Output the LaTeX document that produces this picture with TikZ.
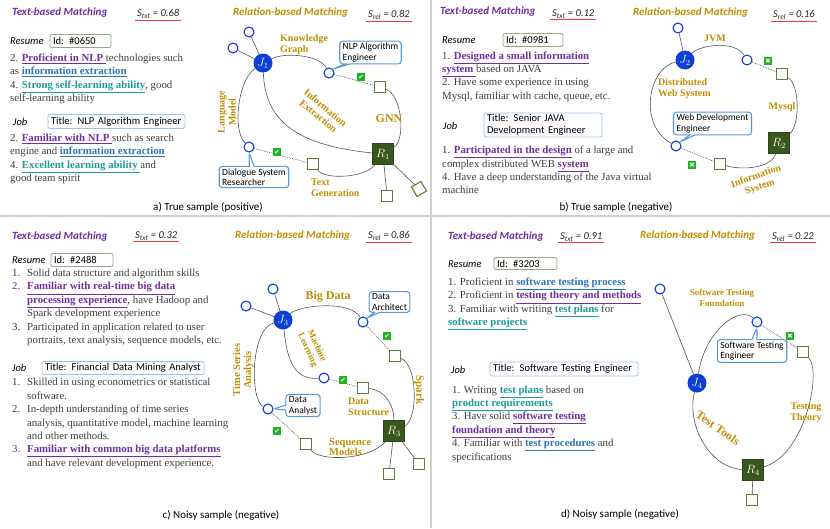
\documentclass[tikz,border=0pt]{standalone}
\usepackage{fontspec}
\setmainfont{Liberation Serif}
\newfontfamily\sansf{Carlito}
\newfontfamily\dejavu{DejaVu Sans}
\usetikzlibrary{shapes.callouts}
\definecolor{txtgray}{HTML}{404040}
\definecolor{hpurple}{HTML}{7030A0}
\definecolor{hblue}{HTML}{2E75B6}
\definecolor{hteal}{HTML}{1E9C9C}
\definecolor{gold}{HTML}{BF9000}
\definecolor{nblue}{HTML}{0D3FD6}
\definecolor{rgreen}{HTML}{38571F}
\definecolor{sgreen}{HTML}{5B7F3B}
\definecolor{callblue}{HTML}{5B9BD5}
\definecolor{idgreen}{HTML}{93A88A}
\definecolor{titleblue}{HTML}{9DC3E6}
\definecolor{hdgold}{HTML}{BF8F00}
\definecolor{ulred}{HTML}{F03C3C}
\definecolor{chkgreen}{HTML}{22B422}
\definecolor{divgray}{HTML}{D0D0D0}
\definecolor{edgegray}{HTML}{555555}
\newcommand\hlt[2]{{\color{#1}\bfseries\underline{#2}}}
\newcommand\nbx[1]{\makebox[15pt][l]{#1}}
\newcommand\ind{\hspace*{15pt}}
\begin{document}
\begin{tikzpicture}[x=1pt,y=-1pt,
 bodytxt/.style={anchor=west, inner sep=0pt, align=left, text=txtgray, font=\fontsize{10.8}{13.4}\selectfont},
 hdp/.style={anchor=west, inner sep=0pt, text=hpurple, font=\sansf\bfseries\itshape\fontsize{11}{12}\selectfont},
 hdg/.style={hdp, text=hdgold},
 score/.style={anchor=west, inner sep=0pt, text=black!85, font=\sansf\itshape\fontsize{10.5}{11}\selectfont},
 redul/.style={draw=ulred, line width=1pt},
 hdr/.style={anchor=west, inner sep=0pt, font=\sansf\itshape\fontsize{10.5}{12}\selectfont, text=black},
 idbox/.style={draw=idgreen, line width=0.8pt, rounded corners=2pt, fill=white, font=\sansf\fontsize{10.5}{12}\selectfont, inner xsep=3pt, inner ysep=1pt, align=left, text=black},
 tbox/.style={idbox, draw=titleblue},
 capt/.style={inner sep=0pt, font=\sansf\fontsize{11}{12}\selectfont, text=black},
 jn/.style={circle, fill=nblue, minimum size=19pt, inner sep=0pt, text=white, font=\fontsize{12}{12}\selectfont},
 on/.style={circle, draw=nblue, line width=1.1pt, fill=white, minimum size=10pt, inner sep=0pt},
 rn/.style={rectangle, fill=rgreen, draw=rgreen!80!black, minimum size=21pt, inner sep=0pt, text=white, font=\fontsize{12}{12}\selectfont},
 sn/.style={rectangle, draw=sgreen, line width=1.1pt, fill=white, minimum size=11pt, inner sep=0pt},
 lnk/.style={draw=edgegray, line width=0.6pt},
 dotl/.style={draw=edgegray, line width=0.7pt, densely dotted},
 ok/.style={rectangle, fill=chkgreen, text=white, minimum size=8pt, inner sep=0pt, font=\dejavu\fontsize{6.5}{6.5}\selectfont},
 gl/.style={text=gold, font=\bfseries\fontsize{10}{11}\selectfont, inner sep=0pt, align=left},
 callbx/.style={rectangle callout, draw=callblue, line width=1.1pt, fill=white, rounded corners=3pt, font=\sansf\fontsize{9.5}{10.5}\selectfont, align=left, inner xsep=3pt, inner ysep=2pt, text=black, callout pointer width=5pt}
]
\useasboundingbox (0,0) rectangle (830,528);
\fill[white] (0,0) rectangle (830,528);
\draw[divgray, line width=1.5pt] (0,216) -- (830,216);
\draw[divgray, line width=1.5pt] (431,0) -- (431,528);

% ================= a) =================
\node[hdp] (tA) at (12,13) {Text-based Matching};
\node[score] (stA) at (137,14) {S\textsubscript{txt} = 0.68};
\draw[redul] ([xshift=-2pt,yshift=-1.5pt]stA.south west) -- ([xshift=2pt,yshift=-1.5pt]stA.south east);
\node[hdg] (rA) at (233,13) {Relation-based Matching};
\node[score] (srA) at (368,15) {S\textsubscript{rel} = 0.82};
\draw[redul] ([xshift=-2pt,yshift=-1.5pt]srA.south west) -- ([xshift=2pt,yshift=-1.5pt]srA.south east);
\node[hdr] (resA) at (10,41) {Resume};
\node[idbox, text width=55pt, minimum height=13pt] (idA) at (80.5,41) {Id: \#0650};
\node[bodytxt] (rtA) at (10,79) {2. \hlt{hpurple}{Proficient in NLP }technologies such\\
as \hlt{hblue}{information extraction}\\
4. \hlt{hteal}{Strong self-learning ability}, good\\
self-learning ability};
\node[hdr] (jobA) at (13,122) {Job};
\node[tbox, text width=131pt, minimum height=14pt] (ttA) at (116.5,121.5) {Title: NLP Algorithm Engineer};
\node[bodytxt] (jtA) at (10,159) {2. \hlt{hpurple}{Familiar with NLP }such as search\\
engine and \hlt{hblue}{information extraction}\\
4. \hlt{hteal}{Excellent learning ability }and\\
good team spirit};
\node[capt] (capA) at (208,207) {a) True sample (positive)};

\node[jn] (J1) at (263,63) {$J_1$};
\node[on] (oA1) at (249,32) {};
\node[on] (oA2) at (233,48) {};
\node[on] (oA3) at (329,73) {};
\node[on] (oA4) at (249,147) {};
\node[sn] (sA1) at (380,87) {};
\node[sn] (sA2) at (313,164) {};
\node[rn] (R1) at (383,154) {$R_1$};
\node[sn] (sA3) at (387,196) {};
\node[sn, rotate=30] (sA4) at (419,189) {};
\draw[lnk] (J1) -- (oA1);
\draw[lnk] (J1) -- (oA2);
\draw[lnk] (J1) .. controls (285,52) and (320,55) .. (oA3);
\draw[dotl] (oA3) -- (sA1);
\draw[lnk] (sA1) .. controls (402,95) and (406,140) .. (R1);
\draw[lnk] (J1) .. controls (265,118) and (292,145) .. (R1);
\draw[lnk] (J1) .. controls (238,80) and (232,130) .. (oA4);
\draw[dotl] (oA4) -- (sA2);
\draw[lnk] (sA2) .. controls (325,180) and (365,178) .. (R1);
\draw[lnk] (R1) -- (sA3);
\draw[lnk] (R1) -- (sA4);
\node[ok] (kA1) at (361,77) {✔};
\node[ok] (kA2) at (277,152) {✔};
\node[gl, anchor=west] (gA1) at (280,44.5) {Knowledge\\Graph};
\node[gl, rotate=90, align=center] (gA2) at (227,112) {Language\\Model};
\node[gl, rotate=-40, align=center] (gA3) at (322,112) {Information\\Extraction};
\node[gl, font=\bfseries\fontsize{12}{12}\selectfont] (gA4) at (389,119) {GNN};
\node[gl, anchor=west] (gA5) at (311,188) {Text\\Generation};
\node[callbx, callout absolute pointer={(oA3.north east)}] (cA1) at (370.5,52.5) {NLP Algorithm\\Engineer};
\node[callbx, callout absolute pointer={(oA4.south)}] (cA2) at (254,177) {Dialogue System\\Researcher};

% ================= b) =================
\node[hdp] (tB) at (440,12) {Text-based Matching};
\node[score] (stB) at (552,14) {S\textsubscript{txt} = 0.12};
\draw[redul] ([xshift=-2pt,yshift=-1.5pt]stB.south west) -- ([xshift=2pt,yshift=-1.5pt]stB.south east);
\node[hdg] (rB) at (633,13) {Relation-based Matching};
\node[score] (srB) at (773,15) {S\textsubscript{rel} = 0.16};
\draw[redul] ([xshift=-2pt,yshift=-1.5pt]srB.south west) -- ([xshift=2pt,yshift=-1.5pt]srB.south east);
\node[hdr] (resB) at (442,40) {Resume};
\node[idbox, text width=54pt, minimum height=13pt] (idB) at (533,40) {Id: \#0981};
\node[bodytxt] (rtB) at (442,76.5) {1. \hlt{hpurple}{Designed a small information}\\
\hlt{hpurple}{system }based on JAVA\\
2. Have some experience in using\\
Mysql, familiar with cache, queue, etc.};
\node[hdr] (jobB) at (443,126) {Job};
\node[tbox, text width=112pt, minimum height=24pt] (ttB) at (543,125) {Title: Senior JAVA\\Development Engineer};
\node[bodytxt] (jtB) at (442,170) {1. \hlt{hpurple}{Participated in the design} of a large and\\
complex distributed WEB \hlt{hpurple}{system}\\
4. Have a deep understanding of the Java virtual\\
machine};
\node[capt] (capB) at (616,207) {b) True sample (negative)};

\node[jn] (J2) at (685,60) {$J_2$};
\node[on] (oB1) at (678,28) {};
\node[on] (oB2) at (747,60) {};
\node[on] (oB3) at (676,146) {};
\node[sn] (sB1) at (782,74) {};
\node[sn] (sB2) at (720,164) {};
\node[rn] (R2) at (779,143) {$R_2$};
\draw[lnk] (J2) -- (oB1);
\draw[lnk] (J2) .. controls (700,45) and (735,40) .. (oB2);
\draw[dotl] (oB2) -- (sB1);
\draw[lnk] (sB1) .. controls (800,85) and (800,125) .. (R2);
\draw[lnk] (J2) .. controls (648,68) and (638,125) .. (oB3);
\draw[dotl] (oB3) -- (sB2);
\draw[lnk] (sB2) .. controls (745,171) and (772,167) .. (R2);
\node[ok] (xB1) at (768,61) {✖};
\node[ok] (xB2) at (692,165) {✖};
\node[gl] (gB1) at (715,38) {JVM};
\node[gl, anchor=west] (gB2) at (658,89) {Distributed\\Web System};
\node[gl] (gB3) at (782,107) {Mysql};
\node[gl, rotate=20, align=center] (gB4) at (758,182) {Information\\System};
\node[callbx, callout absolute pointer={(oB3.north east)}] (cB1) at (712.5,123.5) {Web Development\\Engineer};

% ================= c) =================
\node[hdp] (tC) at (12,237) {Text-based Matching};
\node[score] (stC) at (135,236) {S\textsubscript{txt} = 0.32};
\draw[redul] ([xshift=-2pt,yshift=-1.5pt]stC.south west) -- ([xshift=2pt,yshift=-1.5pt]stC.south east);
\node[hdg] (rC) at (235,236) {Relation-based Matching};
\node[score] (srC) at (368,236) {S\textsubscript{rel} = 0.86};
\draw[redul] ([xshift=-2pt,yshift=-1.5pt]srC.south west) -- ([xshift=2pt,yshift=-1.5pt]srC.south east);
\node[hdr] (resC) at (12,260) {Resume};
\node[idbox, text width=56pt, minimum height=13pt] (idC) at (82,260) {Id: \#2488};
\node[bodytxt] (rtC) at (12,307.5) {\nbx{1.}Solid data structure and algorithm skills\\
{\color{hpurple}\nbx{2.}}\hlt{hpurple}{Familiar with real-time big data}\\
\ind\hlt{hpurple}{processing experience}, have Hadoop and\\
\ind Spark development experience\\
\nbx{3.}Participated in application related to user\\
\ind portraits, text analysis, sequence models, etc.};
\node[hdr] (jobC) at (12,368) {Job};
\node[tbox, text width=156pt, minimum height=13pt] (ttC) at (123,368) {Title: Financial Data Mining Analyst};
\node[bodytxt] (jtC) at (12,423.5) {\nbx{1.}Skilled in using econometrics or statistical\\
\ind software.\\
\nbx{2.}In-depth understanding of time series\\
\ind analysis, quantitative model, machine learning\\
\ind and other methods.\\
{\color{hpurple}\nbx{3.}}\hlt{hpurple}{Familiar with common big data platforms}\\
\ind and have relevant development experience.};
\node[capt] (capC) at (221,515) {c) Noisy sample (negative)};

\node[jn] (J3) at (283,320) {$J_3$};
\node[on] (oC1) at (273,289) {};
\node[on] (oC2) at (246,306) {};
\node[on] (oC3) at (363,322) {};
\node[on] (oC4) at (324,378) {};
\node[on] (oC5) at (268,409) {};
\node[sn] (sC1) at (395,356) {};
\node[sn] (sC2) at (363,388) {};
\node[sn] (sC3) at (306,444) {};
\node[rn] (R3) at (394,431) {$R_3$};
\node[sn] (sC4) at (389,474) {};
\node[sn] (sC5) at (419,464) {};
\draw[lnk] (J3) -- (oC1);
\draw[lnk] (J3) -- (oC2);
\draw[lnk] (J3) .. controls (300,305) and (350,300) .. (oC3);
\draw[dotl] (oC3) -- (sC1);
\draw[lnk] (sC1) .. controls (418,365) and (418,420) .. (R3);
\draw[lnk] (J3) .. controls (287,360) and (294,380) .. (oC4);
\draw[dotl] (oC4) -- (sC2);
\draw[lnk] (sC2) .. controls (385,390) and (394,405) .. (R3);
\draw[lnk] (J3) .. controls (250,330) and (250,400) .. (oC5);
\draw[dotl] (oC5) -- (sC3);
\draw[lnk] (sC3) .. controls (320,462) and (370,460) .. (R3);
\draw[lnk] (R3) -- (sC4);
\draw[lnk] (R3) -- (sC5);
\node[ok] (kC1) at (387,336) {✔};
\node[ok] (kC2) at (343,380) {✔};
\node[ok] (kC3) at (277,431) {✔};
\node[gl, font=\bfseries\fontsize{12}{12}\selectfont] (gC1) at (328,297) {Big Data};
\node[gl, rotate=-90, font=\bfseries\fontsize{11}{12}\selectfont] (gC2) at (419,390) {Spark};
\node[gl, rotate=-65, align=center, font=\bfseries\fontsize{9}{10}\selectfont] (gC3) at (312,348) {Machine\\Learning};
\node[gl, anchor=west] (gC4) at (348,407) {Data\\Structure};
\node[gl, rotate=90, align=center, font=\bfseries\fontsize{10.5}{11}\selectfont] (gC5) at (243,370) {Time Series\\Analysis};
\node[gl, anchor=west, font=\bfseries\fontsize{10.5}{10}\selectfont] (gC6) at (329,447) {Sequence\\Models};
\node[callbx, callout absolute pointer={(oC3.north east)}] (cC1) at (389.5,302) {Data\\Architect};
\node[callbx, callout absolute pointer={(oC5.east)}] (cC2) at (303,405.5) {Data\\Analyst};

% ================= d) =================
\node[hdp] (tD) at (448,237) {Text-based Matching};
\node[score] (stD) at (560,237) {S\textsubscript{txt} = 0.91};
\draw[redul] ([xshift=-2pt,yshift=-1.5pt]stD.south west) -- ([xshift=2pt,yshift=-1.5pt]stD.south east);
\node[hdg] (rD) at (640,236) {Relation-based Matching};
\node[score] (srD) at (772,237) {S\textsubscript{rel} = 0.22};
\draw[redul] ([xshift=-2pt,yshift=-1.5pt]srD.south west) -- ([xshift=2pt,yshift=-1.5pt]srD.south east);
\node[hdr] (resD) at (448,264) {Resume};
\node[idbox, text width=57pt, minimum height=12pt] (idD) at (525.5,263.5) {Id: \#3203};
\node[bodytxt] (rtD) at (448,304) {1. Proficient in \hlt{hblue}{software testing process}\\
2. Proficient in \hlt{hpurple}{testing theory and methods}\\
3. Familiar with writing \hlt{hteal}{test plans} for\\
\hlt{hteal}{software projects}};
\node[hdr] (jobD) at (451,370) {Job};
\node[tbox, text width=142pt, minimum height=14pt] (ttD) at (564,369) {Title: Software Testing Engineer};
\node[bodytxt] (jtD) at (452,424) {1. Writing \hlt{hteal}{test plans} based on\\
\hlt{hteal}{product requirements}\\
3. Have solid \hlt{hpurple}{software testing}\\
\hlt{hpurple}{foundation and theory}\\
4. Familiar with \hlt{hblue}{test procedures} and\\
specifications};
\node[capt] (capD) at (620,514) {d) Noisy sample (negative)};

\node[jn] (J4) at (697,383) {$J_4$};
\node[on] (oD1) at (660,289) {};
\node[on] (oD2) at (757,322) {};
\node[sn] (sD1) at (803,352) {};
\node[rn] (R4) at (753,470) {$R_4$};
\node[sn] (sD2) at (752,500) {};
\draw[lnk] (J4) -- (oD1);
\draw[lnk] (J4) .. controls (705,330) and (740,305) .. (oD2);
\draw[dotl] (oD2) -- (sD1);
\draw[lnk] (sD1) .. controls (822,372) and (805,455) .. (R4);
\draw[lnk] (J4) .. controls (686,425) and (710,468) .. (R4);
\draw[lnk] (R4) -- (sD2);
\node[ok] (xD1) at (790,336) {✖};
\node[gl, align=center, font=\bfseries\fontsize{9}{11}\selectfont] (gD1) at (722,298) {Software Testing\\Foundation};
\node[gl, align=center] (gD2) at (806,413) {Testing\\Theory};
\node[gl, rotate=-35, font=\bfseries\fontsize{12}{12}\selectfont] (gD3) at (718,428) {Test Tools};
\node[callbx, callout absolute pointer={(oD2.south)}] (cD1) at (752,351) {Software Testing\\Engineer};
\end{tikzpicture}
\end{document}
